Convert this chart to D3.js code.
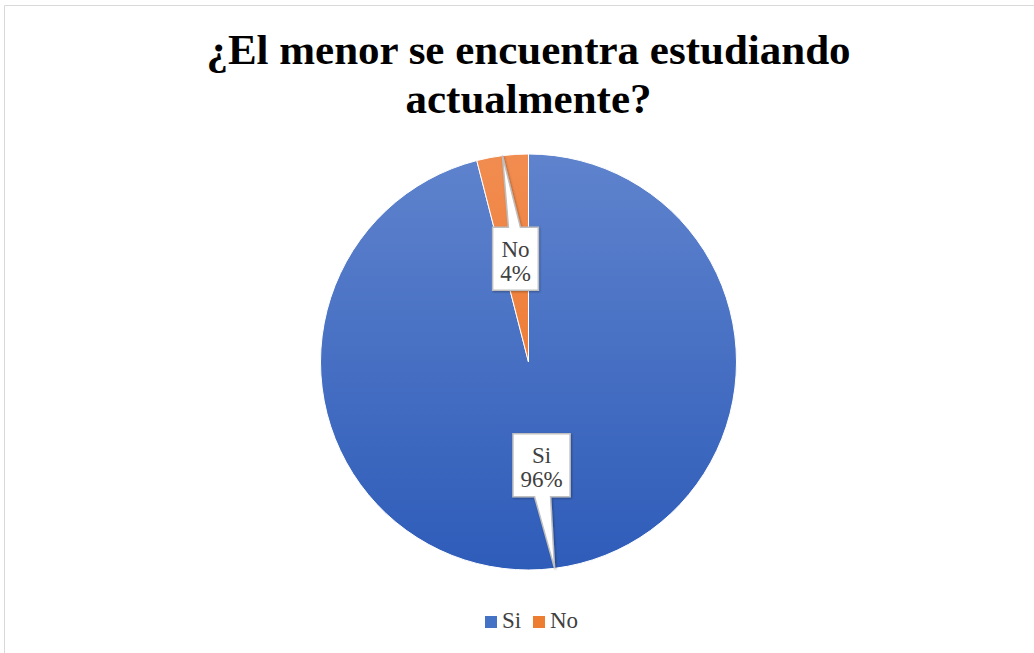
<!DOCTYPE html>
<html>
<head>
<meta charset="utf-8">
<script src="https://cdn.jsdelivr.net/npm/d3@7"></script>
<style>
  body { margin: 0; background: #fff; }
  svg { display: block; }
</style>
</head>
<body>
<div id="chart"></div>
<script>
const categories = ['Si', 'No'];
const values = [96, 4];
const titleLines = ['¿El menor se encuentra estudiando', 'actualmente?'];

const width = 1034, height = 653;
const cx = 528.5, cy = 362, radius = 208;
const font = '"Liberation Serif", "Times New Roman", serif';

const svg = d3.select('#chart').append('svg')
   .attr('width', width)
   .attr('height', height);

// chart frame
svg.append('path')
   .attr('d', `M4.5,${height}V5.5H${width}`)
   .attr('fill', 'none')
   .attr('stroke', '#d9d9d9')
   .attr('stroke-width', 1);

const defs = svg.append('defs');
const grads = [['#5f83cd', '#2e5cb9'], ['#f18c50', '#ed7020']];
grads.forEach((g, i) => {
   const lg = defs.append('linearGradient')
      .attr('id', 'grad' + i)
      .attr('gradientUnits', 'userSpaceOnUse')
      .attr('x1', 0).attr('y1', -radius)
      .attr('x2', 0).attr('y2', radius);
   lg.append('stop').attr('offset', 0).attr('stop-color', g[0]);
   lg.append('stop').attr('offset', 1).attr('stop-color', g[1]);
});

const shadow = defs.append('filter').attr('id', 'shadow')
   .attr('x', '-30%').attr('y', '-30%').attr('width', '160%').attr('height', '160%');
shadow.append('feDropShadow')
   .attr('dx', 1).attr('dy', 1).attr('stdDeviation', 1.2)
   .attr('flood-color', '#000').attr('flood-opacity', 0.3);

const color = d3.scaleOrdinal().domain(categories).range(['url(#grad0)', 'url(#grad1)']);
const legendColor = d3.scaleOrdinal().domain(categories).range(['#4472c4', '#ed7d31']);

const pie = d3.pie().sort(null).value(d => d.value);
const data = categories.map((c, i) => ({ name: c, value: values[i] }));
const arcs = pie(data);
const arc = d3.arc().innerRadius(0).outerRadius(radius);

const g = svg.append('g').attr('transform', `translate(${cx},${cy})`);

g.selectAll('path.slice')
   .data(arcs)
   .enter().append('path')
      .attr('class', 'slice')
      .attr('d', arc)
      .attr('fill', d => color(d.data.name))
      .attr('stroke', '#fff')
      .attr('stroke-width', 1);

// callout labels
const total = d3.sum(values);
const lineH = 24;
const labels = g.selectAll('g.callout')
   .data(arcs)
   .enter().append('g')
      .attr('class', 'callout');

labels.each(function (d) {
   const sel = d3.select(this);
   const mid = (d.startAngle + d.endAngle) / 2;
   const bx = Math.sin(mid) * radius * 0.5;
   const by = -Math.cos(mid) * radius * 0.5;
   const tx = Math.sin(mid) * radius;
   const ty = -Math.cos(mid) * radius;
   const lines = [d.data.name, Math.round(d.data.value / total * 100) + '%'];

   const txt = sel.append('text')
      .attr('font-family', font)
      .attr('font-size', 23)
      .attr('fill', '#404040')
      .attr('text-anchor', 'middle');
   lines.forEach((l, i) => {
      txt.append('tspan')
         .attr('x', bx)
         .attr('y', by - lineH / 2 + 10 + i * lineH)
         .text(l);
   });
   const tw = d3.max(txt.selectAll('tspan').nodes(), n => n.getComputedTextLength());
   const w = tw + 15, h = 63;
   const x0 = bx - w / 2, x1 = bx + w / 2, y0 = by - h / 2, y1 = by + h / 2;
   // pointer base on the box edge facing the tip
   const px = Math.max(x0 + 7, Math.min(x1 - 7, bx + (tx - bx) * 0.08));
   let p;
   if (ty < y0) {
      p = `M${x0},${y0}H${px - 6}L${tx},${ty}L${px + 6},${y0}H${x1}V${y1}H${x0}Z`;
   } else {
      p = `M${x0},${y0}H${x1}V${y1}H${px + 8}L${tx},${ty}L${px - 8},${y1}H${x0}Z`;
   }
   sel.insert('path', 'text')
      .attr('d', p)
      .attr('fill', '#fff')
      .attr('stroke', '#bfbfbf')
      .attr('stroke-width', 1.5)
      .attr('filter', 'url(#shadow)');
});

// title
const title = svg.append('text')
   .attr('font-family', font)
   .attr('font-weight', 'bold')
   .attr('font-size', 43)
   .attr('fill', '#000')
   .attr('text-anchor', 'middle');
titleLines.forEach((l, i) => {
   title.append('tspan').attr('x', cx).attr('y', 64 + i * 49).text(l);
});

// legend
const legend = svg.append('g').attr('transform', 'translate(485,616)');
const legendX = d3.scaleOrdinal().domain(categories).range([0, 48]);
const items = legend.selectAll('g')
   .data(categories)
   .enter().append('g')
      .attr('transform', d => `translate(${legendX(d)},0)`);
items.append('rect')
   .attr('width', 12).attr('height', 12)
   .attr('fill', d => legendColor(d));
items.append('text')
   .attr('x', 17).attr('y', 12)
   .attr('font-family', font)
   .attr('font-size', 23)
   .attr('fill', '#404040')
   .text(d => d);
</script>
</body>
</html>
